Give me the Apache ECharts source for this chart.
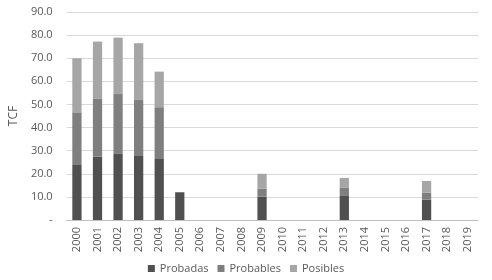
<!DOCTYPE html>
<html>
<head>
<meta charset="utf-8">
<script src="https://cdn.jsdelivr.net/npm/echarts@6/dist/echarts.min.js"></script>
<style>
  html, body { margin: 0; padding: 0; background: #fff; }
  #chart { width: 492px; height: 280px; }
</style>
</head>
<body>
<div id="chart"></div>
<script>
// años
var years = ['2000', '2001', '2002', '2003', '2004', '2005', '2006', '2007', '2008', '2009',
  '2010', '2011', '2012', '2013', '2014', '2015', '2016', '2017', '2018', '2019'];

// reservas en TCF (apiladas)
var probadas = [23.8, 27.4, 28.6, 27.7, 26.4, 12.0, 0, 0, 0, 10.1, 0, 0, 0, 10.4, 0, 0, 0, 8.8, 0, 0];
var probables = [22.8, 25.0, 25.9, 24.5, 22.4, 0, 0, 0, 0, 3.4, 0, 0, 0, 3.5, 0, 0, 0, 3.0, 0, 0];
var posibles = [23.4, 24.8, 24.4, 24.3, 15.4, 0, 0, 0, 0, 6.5, 0, 0, 0, 4.3, 0, 0, 0, 5.1, 0, 0];

var chart = echarts.init(document.getElementById('chart'));

function serie(name, data, color) {
  return {
    name: name,
    type: 'bar',
    stack: 'total',
    barWidth: '45%',
    data: data,
    itemStyle: { color: color },
    emphasis: { disabled: true }
  };
}

chart.setOption({
  animation: false,
  textStyle: { fontFamily: 'Open Sans, DejaVu Sans, sans-serif' },
  grid: { left: 57, right: 14, top: 12, bottom: 60 },
  legend: {
    bottom: 1,
    left: 'center',
    icon: 'rect',
    itemWidth: 7,
    itemHeight: 7,
    itemGap: 9,
    textStyle: { color: '#595959', fontSize: 11 },
    data: ['Probadas', 'Probables', 'Posibles']
  },
  xAxis: {
    type: 'category',
    data: years,
    axisLine: { lineStyle: { color: '#bfbfbf' } },
    axisTick: { show: false },
    axisLabel: { rotate: 90, color: '#595959', fontSize: 11, margin: 7, interval: 0 }
  },
  yAxis: {
    type: 'value',
    min: 0,
    max: 90,
    interval: 10,
    name: 'TCF',
    nameLocation: 'middle',
    nameGap: 40,
    nameTextStyle: { color: '#595959', fontSize: 12 },
    axisLabel: {
      color: '#595959',
      fontSize: 11,
      margin: 14,
      formatter: function (v) { return v === 0 ? '-' : v.toFixed(1); }
    },
    splitLine: { lineStyle: { color: '#d9d9d9' } }
  },
  series: [
    serie('Probadas', probadas, '#505050'),
    serie('Probables', probables, '#7f7f7f'),
    serie('Posibles', posibles, '#a6a6a6')
  ]
});
</script>
</body>
</html>
